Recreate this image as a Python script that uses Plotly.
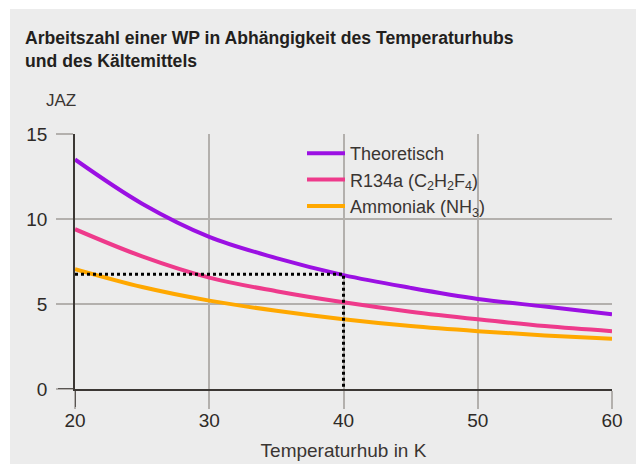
import plotly.graph_objects as go

# Data
temp_lift = [20, 25, 30, 35, 40, 45, 50, 55, 60]
jaz_theoretisch = [13.5, 10.9, 8.95, 7.7, 6.7, 5.95, 5.3, 4.85, 4.4]
jaz_r134a = [9.4, 7.8, 6.55, 5.75, 5.1, 4.55, 4.1, 3.7, 3.4]
jaz_ammoniak = [7.05, 6.0, 5.2, 4.6, 4.1, 3.7, 3.4, 3.15, 2.95]

series_names = ["Theoretisch",
                "R134a (C<sub>2</sub>H<sub>2</sub>F<sub>4</sub>)",
                "Ammoniak (NH<sub>3</sub>)"]
series_colors = ["#9b10e3", "#ee3a8b", "#ffa800"]

readout_x = [20, 40, 40]
readout_y = [6.75, 6.75, 0]

x_ticks = [20, 30, 40, 50, 60]
y_ticks = [0, 5, 10, 15]

W, H = 636, 464
L, R, T, B = 75, 24, 134, 75
PW, PH = W - L - R, H - T - B

FONT = "Liberation Sans, Arial, sans-serif"
TXT = "#2e2a27"
GRID = "#b3b0ad"
DARK = "#3b3734"

fig = go.Figure()
for name, ys, col in zip(series_names, [jaz_theoretisch, jaz_r134a, jaz_ammoniak], series_colors):
    fig.add_trace(go.Scatter(x=temp_lift, y=ys, mode="lines", name=name,
                             line=dict(color=col, width=4, shape="spline", smoothing=1.0)))

fig.add_trace(go.Scatter(x=readout_x, y=readout_y, mode="lines", showlegend=False,
                         line=dict(color="#000000", width=3, dash="dot")))

fig.update_layout(
    width=W, height=H, autosize=False,
    margin=dict(l=L, r=R, t=T, b=B, pad=0, autoexpand=False),
    paper_bgcolor="#ececec", plot_bgcolor="#ececec",
    font=dict(family=FONT, color=TXT, size=18),
    title=dict(text="<b>Arbeitszahl einer WP in Abhängigkeit des Temperaturhubs<br>und des Kältemittels</b>",
               x=25 / W, xanchor="left", xref="container",
               y=1 - 44 / H, yanchor="top", yref="container",
               font=dict(family=FONT, size=17.6, color="#231f1d")),
    showlegend=True,
    legend=dict(x=(302 - L) / PW, y=(H - B - 135) / PH, xanchor="left", yanchor="top",
                bgcolor="rgba(0,0,0,0)", font=dict(size=18, color="#3a3532"),
                tracegroupgap=0, itemwidth=38),
    xaxis=dict(range=[20, 60], tickvals=x_ticks, showgrid=True, gridcolor=GRID, gridwidth=1.5,
               ticks="outside", ticklen=18, tickcolor=GRID, tickwidth=1.5,
               showline=True, linecolor=DARK, linewidth=1.5, zeroline=False, automargin=False,
               tickfont=dict(size=19, color=TXT), ticklabelstandoff=-5,
               title=dict(text="Temperaturhub in K", font=dict(size=19, color="#3a3532"), standoff=14)),
    yaxis=dict(range=[0, 15], tickvals=y_ticks, showgrid=True, gridcolor=GRID, gridwidth=1.5,
               ticks="outside", ticklen=17, tickcolor=GRID, tickwidth=1.5,
               showline=True, linecolor=DARK, linewidth=1.5, zeroline=False, automargin=False,
               tickfont=dict(size=19, color=TXT), ticklabelstandoff=5),
    shapes=[
        # white outer border strips (left and top)
        dict(type="rect", xref="paper", yref="paper", x0=-L / PW - 0.01, x1=(10 - L) / PW,
             y0=-B / PH - 0.05, y1=1 + T / PH + 0.05, fillcolor="white", line_width=0, layer="below"),
        dict(type="rect", xref="paper", yref="paper", x0=-L / PW - 0.01, x1=1 + R / PW + 0.05,
             y0=1 + (T - 9) / PH, y1=1 + T / PH + 0.05, fillcolor="white", line_width=0, layer="below"),
        # dark extensions of axis lines beyond the plot
        dict(type="line", xref="x", yref="paper", x0=20, x1=20, y0=0, y1=-18 / PH,
             line=dict(color=DARK, width=1.5)),
        dict(type="line", xref="paper", yref="y", x0=-17 / PW, x1=0, y0=0, y1=0,
             line=dict(color=DARK, width=1.5)),
    ],
    annotations=[
        dict(text="JAZ", xref="paper", yref="paper", x=(44 - L) / PW, y=1 + (T - 100) / PH,
             xanchor="left", yanchor="middle", showarrow=False,
             font=dict(size=17, color="#3a3532")),
    ],
)

fig.write_html("out.html",
               config={"displayModeBar": False, "responsive": False},
               post_script="document.body.style.margin='0';document.body.style.overflow='hidden';")
